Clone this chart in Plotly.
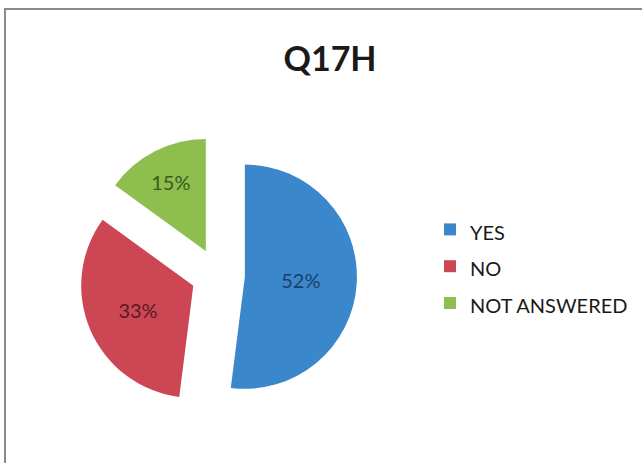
import plotly.graph_objects as go

# Survey responses for question Q17H
categories = ["YES", "NO", "NOT ANSWERED"]
shares = [52, 33, 15]
slice_colors = ["#3A87CB", "#CD4654", "#8DBE4E"]
text_colors = ["#1B3F66", "#5A1A20", "#3B5A1E"]

W, H = 642, 463
FONT = "Lato, Open Sans, sans-serif"

# Legend rows use a tall base font for spacing, with the visible text set smaller.
legend_labels = [f"<span style='font-size:20px'>{c}</span>" for c in categories]

fig = go.Figure(
    go.Pie(
        labels=legend_labels,
        values=shares,
        sort=False,
        direction="clockwise",
        rotation=0,
        pull=[0.24, 0.24, 0.24],
        marker=dict(colors=slice_colors, line=dict(width=0)),
        texttemplate="%{percent:.0%}",
        textposition="inside",
        insidetextorientation="horizontal",
        insidetextfont=dict(family=FONT, size=20, color=text_colors),
        domain=dict(x=[79 / W, 357 / W], y=[1 - 414 / H, 1 - 136 / H]),
        hovertemplate="%{label}: %{percent}<extra></extra>",
    )
)

fig.update_layout(
    width=W,
    height=H,
    margin=dict(l=0, r=0, t=0, b=0),
    paper_bgcolor="white",
    plot_bgcolor="white",
    title=dict(
        text="<b>Q17H</b>",
        x=330 / W,
        xanchor="center",
        y=1 - 59 / H,
        yanchor="middle",
        font=dict(family=FONT, size=34, color="#1a1a1a"),
    ),
    legend=dict(
        x=430 / W,
        y=1 - 206 / H,
        xanchor="left",
        yanchor="top",
        font=dict(family=FONT, size=26, color="#1a1a1a"),
        itemwidth=30,
        bgcolor="rgba(0,0,0,0)",
    ),
    shapes=[
        dict(
            type="rect",
            xref="paper",
            yref="paper",
            x0=5 / W,
            y0=-0.05,
            x1=1.05,
            y1=1 - 9 / H,
            line=dict(color="#8a8a8a", width=2),
            fillcolor="rgba(0,0,0,0)",
        )
    ],
)

fig.write_html("out.html")
